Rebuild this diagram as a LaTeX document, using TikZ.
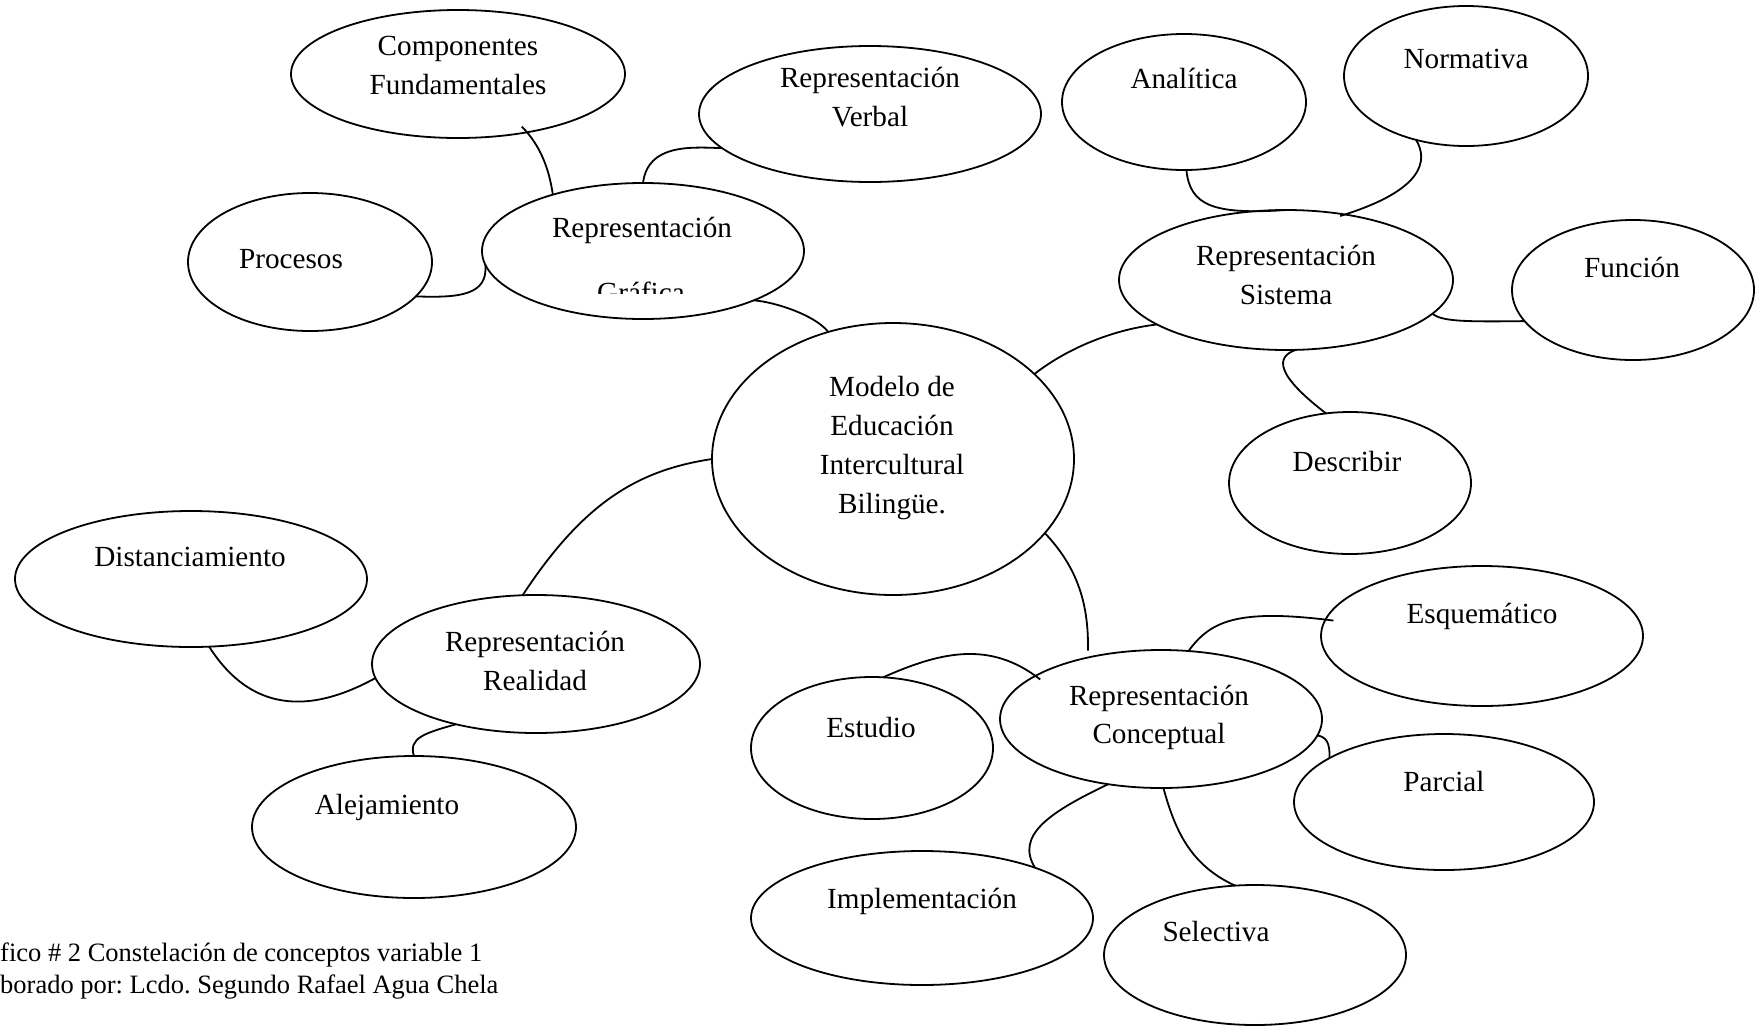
\documentclass[tikz,border=0pt]{standalone}
\usepackage{fontspec}
\setmainfont{Liberation Serif}
\usetikzlibrary{shapes.geometric}
\frenchspacing
\begin{document}
\begin{tikzpicture}[x=1pt,y=-1pt,
  bubble/.style={ellipse,draw,line width=1.8pt,inner sep=0pt,outer sep=0pt},
  lbl/.style={anchor=base,inner sep=0pt,align=center,
    font=\fontsize{29.2}{39}\selectfont},
  note/.style={anchor=base west,inner sep=0pt,
    font=\fontsize{26.5}{32}\selectfont},
  link/.style={line width=1.8pt}]
\useasboundingbox (0,0) rectangle (1756,1026);

% ---- ellipses ----
\node[bubble,minimum width=334pt,minimum height=128pt] (comp)  at (458,74)   {};
\node[bubble,minimum width=342pt,minimum height=136pt] (verb)  at (870,114)  {};
\node[bubble,minimum width=244pt,minimum height=136pt] (anal)  at (1184,102) {};
\node[bubble,minimum width=244pt,minimum height=140pt] (norm)  at (1466,76)  {};
\node[bubble,minimum width=244pt,minimum height=138pt] (proc)  at (310,262)  {};
\node[bubble,minimum width=322pt,minimum height=136pt] (graf)  at (643,251)  {};
\node[bubble,minimum width=334pt,minimum height=140pt] (sist)  at (1286,280) {};
\node[bubble,minimum width=242pt,minimum height=140pt] (func)  at (1633,290) {};
\node[bubble,minimum width=362pt,minimum height=272pt] (model) at (893,459)  {};
\node[bubble,minimum width=242pt,minimum height=142pt] (descr) at (1350,483) {};
\node[bubble,minimum width=352pt,minimum height=136pt] (dist)  at (191,579)  {};
\node[bubble,minimum width=328pt,minimum height=138pt] (real)  at (536,664)  {};
\node[bubble,minimum width=324pt,minimum height=142pt] (alej)  at (414,827)  {};
\node[bubble,minimum width=322pt,minimum height=140pt] (esq)   at (1482,636) {};
\node[bubble,minimum width=322pt,minimum height=138pt] (conc)  at (1161,719) {};
\node[bubble,minimum width=242pt,minimum height=142pt] (estud) at (872,748)  {};
\node[bubble,minimum width=300pt,minimum height=136pt] (parc)  at (1444,802) {};
\node[bubble,minimum width=342pt,minimum height=134pt] (impl)  at (922,918)  {};
\node[bubble,minimum width=302pt,minimum height=140pt] (sel)   at (1255,955) {};

% ---- texts (multi-line labels sit on the baseline of their last line) ----
\node[lbl] (tcomp)  at (458,94)   {Componentes\\Fundamentales};
\node[lbl] (tverb)  at (870,126)  {Representación\\Verbal};
\node[lbl] (tanal)  at (1184,88)  {Analítica};
\node[lbl] (tnorm)  at (1466,68)  {Normativa};
\node[lbl] (tproc)  at (291,268)  {Procesos};
\node[lbl] (tgraf)  at (642,237)  {Representación};
\begin{scope}
  \clip (480,180) rectangle (810,293);
  \node[lbl] (tgraf2) at (641,302) {Gráfica};
\end{scope}
\node[lbl] (tsist)  at (1286,304) {Representación\\Sistema};
\node[lbl] (tfunc)  at (1632,277) {Función};
\node[lbl,font=\fontsize{29.2}{38.7}\selectfont] (tmodel) at (892,513)
  {Modelo de\\Educación\\Intercultural\\Bilingüe.};
\node[lbl] (tdescr) at (1347,471) {Describir};
\node[lbl] (tdist)  at (190,566)  {Distanciamiento};
\node[lbl] (treal)  at (535,690)  {Representación\\Realidad};
\node[lbl] (talej)  at (387,814)  {Alejamiento};
\node[lbl] (tesq)   at (1482,623) {Esquemático};
\node[lbl,font=\fontsize{29.2}{38}\selectfont] (tconc) at (1159,743)
  {Representación\\Conceptual};
\node[lbl] (testud) at (871,737)  {Estudio};
\node[lbl] (tparc)  at (1444,791) {Parcial};
\node[lbl] (timpl)  at (922,908)  {Implementación};
\node[lbl] (tsel)   at (1216,941) {Selectiva};

\node[note] (cap1) at (0,961) {fico \# 2 Constelación de conceptos variable 1};
\node[note] (cap2) at (0,993) {borado por: Lcdo. Segundo Rafael Agua Chela};

% ---- connectors ----
\draw[link,shorten <=-8pt] (comp.-40) .. controls (540,145) and (549,168) .. (graf.148);
\draw[link] (verb.193) .. controls (690,147) and (648,144) .. (graf.90);
\draw[link] (proc.-18) .. controls (460,298) and (488,295) .. (graf.185);
\draw[link] (graf.-24) .. controls (775,302) and (815,315) .. (model.117);
\draw[link] (model.31) .. controls (1065,350) and (1110,330) .. (sist.199);
\draw[link] (anal.-88) .. controls (1190,205) and (1212,215) .. (sist.90);
\draw[link,shorten >=-5pt] (norm.232) .. controls (1428,160) and (1425,190) .. (sist.48);
\draw[link] (sist.-13) .. controls (1442,321) and (1460,322) .. (func.196);
\draw[link] (sist.-82) .. controls (1275,357) and (1276,375) .. (descr.109);
\draw[link] (model.180) .. controls (640,470) and (585,500) .. (real.101);
\draw[link] (dist.-75) .. controls (240,695) and (290,725) .. (real.185);
\draw[link] (real.217) .. controls (425,733) and (408,738) .. (alej.90);
\draw[link,shorten >=7pt] (model.-26) .. controls (1075,565) and (1089,600) .. (conc.140);
\draw[link,shorten >=-8pt] (conc.68) .. controls (1210,622) and (1235,608) .. (esq.174);
\draw[link,shorten >=-6pt] (estud.81) .. controls (940,652) and (990,640) .. (conc.161);
\draw[link] (conc.-6) .. controls (1326,737) and (1330,742) .. (parc.159);
\draw[link] (conc.-129) .. controls (1050,812) and (1015,835) .. (impl.24);
\draw[link] (conc.-88) .. controls (1175,830) and (1190,865) .. (sel.106);
\end{tikzpicture}
\end{document}
